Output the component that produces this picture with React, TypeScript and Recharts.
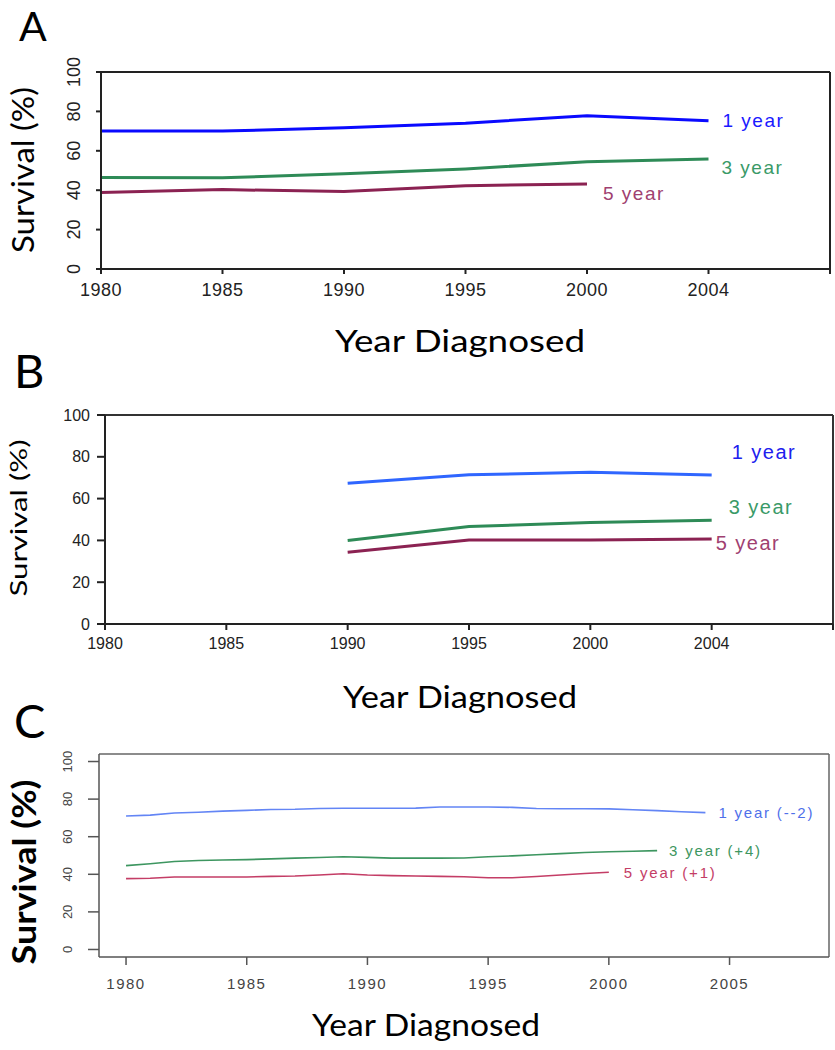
import React from 'react';
import { LineChart, Line, XAxis, YAxis, LabelList, ReferenceLine } from 'recharts';

// Panels A and B: five-year steps, the last slot is a blank category
const yearsAB = ['1980', '1985', '1990', '1995', '2000', '2004', ' '];

const oneYearA = [70.0, 70.0, 71.7, 74.0, 77.8, 75.3, null];
const threeYearA = [46.4, 46.3, 48.4, 50.8, 54.5, 55.8, null];
const fiveYearA = [38.8, 40.3, 39.3, 42.3, 43.1, null, null];

const oneYearB = [null, null, 67.3, 71.4, 72.6, 71.3, null];
const threeYearB = [null, null, 39.9, 46.6, 48.6, 49.6, null];
const fiveYearB = [null, null, 34.3, 40.2, 40.2, 40.7, null];

// Panel C: yearly values
const yearsC = [
  1980, 1981, 1982, 1983, 1984, 1985, 1986, 1987, 1988, 1989, 1990, 1991, 1992,
  1993, 1994, 1995, 1996, 1997, 1998, 1999, 2000, 2001, 2002, 2003, 2004,
];
const oneYearC = [
  71.0, 71.5, 72.6, 73.0, 73.6, 74.0, 74.5, 74.6, 75.0, 75.1, 75.1, 75.1, 75.2,
  75.8, 75.8, 75.8, 75.6, 75.0, 74.9, 74.9, 74.8, 74.3, 73.9, 73.3, 72.8,
];
const threeYearC = [
  44.6, 45.6, 46.8, 47.3, 47.6, 47.8, 48.2, 48.6, 48.9, 49.3, 49.0, 48.6, 48.6,
  48.6, 48.7, 49.3, 49.8, 50.4, 51.0, 51.6, 52.0, 52.3, 52.6,
];
const fiveYearC = [
  37.7, 37.9, 38.6, 38.6, 38.6, 38.6, 38.9, 39.1, 39.6, 40.3, 39.6, 39.3, 39.1,
  38.9, 38.7, 38.2, 38.2, 38.8, 39.6, 40.4, 41.1,
];

const yTicks = [0, 20, 40, 60, 80, 100];
const xTicksC = [1980, 1985, 1990, 1995, 2000, 2005];
const xDomainC = [1978.88, 2009.12];
const yDomainC = [-4, 104];

const rowsA = yearsAB.map((year, i) => ({
  year,
  one: oneYearA[i],
  three: threeYearA[i],
  five: fiveYearA[i],
}));
const rowsB = yearsAB.map((year, i) => ({
  year,
  one: oneYearB[i],
  three: threeYearB[i],
  five: fiveYearB[i],
}));
const rowsC = yearsC.map((year, i) => ({
  year,
  one: oneYearC[i] ?? null,
  three: threeYearC[i] ?? null,
  five: fiveYearC[i] ?? null,
}));

const lastIndex = (arr: (number | null)[]) =>
  arr.reduce((last: number, v, i) => (v == null ? last : i), -1);

const ARIAL = '"Liberation Sans", Arial, sans-serif';
const TITLE = 'Lato, "Open Sans", sans-serif';

const endLabel =
  (text: string, color: string, idx: number, dx: number, dy: number, size: number, spacing: number) =>
  (props: any) => {
    if (props.index !== idx) return null;
    const x = props.x ?? props.viewBox?.x;
    const y = props.y ?? props.viewBox?.y;
    return (
      <text
        x={x + dx}
        y={y + dy}
        fill={color}
        fontSize={size}
        fontFamily={ARIAL}
        letterSpacing={spacing}
        dominantBaseline="central"
      >
        {text}
      </text>
    );
  };

const rotTick = (size: number, fill: string) => (props: any) => {
  const { x, y, payload } = props;
  return (
    <text
      x={x}
      y={y}
      transform={`rotate(-90 ${x} ${y})`}
      textAnchor="middle"
      fontSize={size}
      fontFamily={ARIAL}
      fill={fill}
    >
      {payload.value}
    </text>
  );
};

const App: React.FC = () => {
  return (
    <div style={{ position: 'absolute', left: 0, top: 0, width: 835, height: 1050, background: '#fff' }}>
      {/* Panel A */}
      <div style={{ position: 'absolute', left: 0, top: 0 }}>
        <LineChart width={835} height={350} data={rowsA} margin={{ top: 72, right: 5, left: 41, bottom: 51 }}>
          <XAxis
            dataKey="year"
            height={30}
            stroke="#222"
            strokeWidth={2}
            tickSize={5}
            tickMargin={9}
            tick={{ fontSize: 18, fill: '#222', fontFamily: ARIAL, letterSpacing: 0.5 }}
          />
          <YAxis
            domain={[0, 100]}
            ticks={yTicks}
            width={60}
            stroke="#222"
            strokeWidth={2}
            tickSize={5}
            tickMargin={16}
            tick={rotTick(18, '#222')}
          />
          <ReferenceLine y={100} stroke="#222" strokeWidth={2} />
          <ReferenceLine x=" " stroke="#222" strokeWidth={2} />
          <Line dataKey="one" stroke="#0a0aff" strokeWidth={3} dot={false} isAnimationActive={false}>
            <LabelList dataKey="one" content={endLabel('1 year', '#1a1aff', lastIndex(oneYearA), 14, 0, 19, 1.5)} />
          </Line>
          <Line dataKey="three" stroke="#2e8b57" strokeWidth={3} dot={false} isAnimationActive={false}>
            <LabelList dataKey="three" content={endLabel('3 year', '#3a9a68', lastIndex(threeYearA), 13, 8, 19, 1.5)} />
          </Line>
          <Line dataKey="five" stroke="#8b2252" strokeWidth={3} dot={false} isAnimationActive={false}>
            <LabelList dataKey="five" content={endLabel('5 year', '#a04070', lastIndex(fiveYearA), 16, 9, 19, 1.5)} />
          </Line>
        </LineChart>
      </div>

      {/* Panel B */}
      <div style={{ position: 'absolute', left: 0, top: 350 }}>
        <LineChart width={835} height={350} data={rowsB} margin={{ top: 65, right: 2, left: 45, bottom: 46 }}>
          <XAxis
            dataKey="year"
            height={30}
            stroke="#222"
            strokeWidth={2}
            tickSize={6}
            tickMargin={8}
            tick={{ fontSize: 16, fill: '#222', fontFamily: ARIAL }}
          />
          <YAxis
            domain={[0, 100]}
            ticks={yTicks}
            width={60}
            stroke="#222"
            strokeWidth={2}
            tickSize={8}
            tickMargin={7}
            tick={{ fontSize: 16, fill: '#222', fontFamily: ARIAL }}
          />
          <ReferenceLine y={100} stroke="#333" strokeWidth={2} />
          <ReferenceLine x=" " stroke="#333" strokeWidth={2} />
          <Line dataKey="one" stroke="#2f66ff" strokeWidth={3} dot={false} isAnimationActive={false}>
            <LabelList dataKey="one" content={endLabel('1 year', '#2020ee', lastIndex(oneYearB), 20, -23, 20, 1.5)} />
          </Line>
          <Line dataKey="three" stroke="#2e8b57" strokeWidth={3} dot={false} isAnimationActive={false}>
            <LabelList dataKey="three" content={endLabel('3 year', '#3a9a68', lastIndex(threeYearB), 17, -13, 20, 1.5)} />
          </Line>
          <Line dataKey="five" stroke="#8b2252" strokeWidth={3} dot={false} isAnimationActive={false}>
            <LabelList dataKey="five" content={endLabel('5 year', '#a04070', lastIndex(fiveYearB), 4, 4, 20, 1.5)} />
          </Line>
        </LineChart>
      </div>

      {/* Panel C */}
      <div style={{ position: 'absolute', left: 0, top: 700 }}>
        <LineChart width={835} height={350} data={rowsC} margin={{ top: 54, right: 6, left: 39, bottom: 53 }}>
          <XAxis
            dataKey="year"
            type="number"
            domain={xDomainC}
            ticks={xTicksC}
            allowDataOverflow
            height={40}
            stroke="#555"
            strokeWidth={1.5}
            tickSize={8}
            tickMargin={13}
            tick={{ fontSize: 15, fill: '#444', fontFamily: ARIAL, letterSpacing: 1.5 }}
          />
          <YAxis
            domain={yDomainC}
            ticks={yTicks}
            allowDataOverflow
            width={60}
            stroke="#555"
            strokeWidth={1.5}
            tickSize={11}
            tickMargin={16}
            tick={rotTick(13, '#444')}
          />
          <ReferenceLine y={yDomainC[1]} stroke="#666" strokeWidth={1.5} />
          <ReferenceLine x={xDomainC[1]} stroke="#666" strokeWidth={1.5} />
          <Line dataKey="one" stroke="#6385f5" strokeWidth={1.6} dot={false} isAnimationActive={false}>
            <LabelList dataKey="one" content={endLabel('1 year (--2)', '#4f70ea', lastIndex(oneYearC), 13, 0, 15, 1.8)} />
          </Line>
          <Line dataKey="three" stroke="#3d9660" strokeWidth={1.6} dot={false} isAnimationActive={false}>
            <LabelList dataKey="three" content={endLabel('3 year (+4)', '#3d9660', lastIndex(threeYearC), 12, 0, 15, 1.8)} />
          </Line>
          <Line dataKey="five" stroke="#c43d66" strokeWidth={1.6} dot={false} isAnimationActive={false}>
            <LabelList dataKey="five" content={endLabel('5 year (+1)', '#c43d66', lastIndex(fiveYearC), 15, 0, 15, 1.8)} />
          </Line>
        </LineChart>
      </div>

      {/* panel letters and axis titles */}
      <svg width={835} height={1050} style={{ position: 'absolute', left: 0, top: 0, pointerEvents: 'none' }}>
        <g fontFamily={TITLE} fill="#000">
          <text x={19} y={41} fontSize={41}>A</text>
          <text x={14} y={388} fontSize={47}>B</text>
          <text x={14} y={738} fontSize={47}>C</text>

          <text x={335} y={352} fontSize={31} textLength={250} lengthAdjust="spacingAndGlyphs">Year Diagnosed</text>
          <text x={343} y={708} fontSize={30} textLength={234} lengthAdjust="spacingAndGlyphs">Year Diagnosed</text>
          <text x={312} y={1036} fontSize={30} textLength={228} lengthAdjust="spacingAndGlyphs">Year Diagnosed</text>

          <text x={34} y={170} fontSize={30} textAnchor="middle" transform="rotate(-90 34 170)" textLength={166} lengthAdjust="spacingAndGlyphs">Survival (%)</text>
          <text x={27} y={518} fontSize={24} textAnchor="middle" transform="rotate(-90 27 518)" textLength={157} lengthAdjust="spacingAndGlyphs">Survival (%)</text>
          <text x={36} y={872} fontSize={33} fontWeight={700} textAnchor="middle" transform="rotate(-90 36 872)" textLength={185} lengthAdjust="spacingAndGlyphs">Survival (%)</text>
        </g>
      </svg>
    </div>
  );
};

export default App;
